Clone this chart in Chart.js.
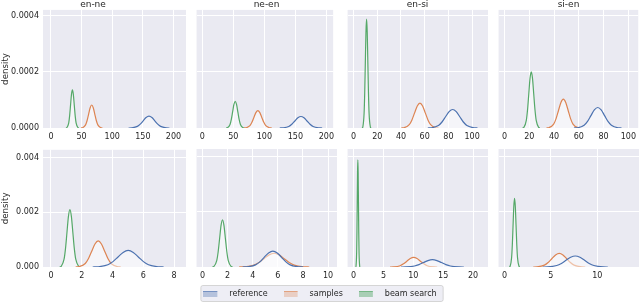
<!DOCTYPE html>
<html>
<head>
<meta charset="utf-8">
<script src="https://cdn.jsdelivr.net/npm/chart.js@4.4.0/dist/chart.umd.min.js"></script>
<style>
  body { margin: 0; background: #fff; }
  #wrap { position: relative; width: 640px; height: 303px; overflow: hidden; }
  #wrap canvas { position: absolute; }
</style>
</head>
<body>
<div id="wrap"></div>
<script>
// language pairs (columns) and series names
const pairs = ['en-ne', 'ne-en', 'en-si', 'si-en'];
const seriesNames = ['reference', 'samples', 'beam search'];

// tick labels
const topTicksY = [0, 0.0002, 0.0004];
const bottomTicksY = [0, 0.002, 0.004];
const topTicksX = [[0, 50, 100, 150, 200], [0, 50, 100, 150, 200], [0, 20, 40, 60, 80, 100], [0, 20, 40, 60, 80, 100]];
const bottomTicksX = [[0, 2, 4, 6, 8], [0, 2, 4, 6, 8, 10], [0, 5, 10, 15, 20], [0, 5, 10]];
const topRangeX = [[-13, 220.4], [-9.4, 211], [-5, 113.4], [-4.8, 108]];
const bottomRangeX = [[-0.52, 8.78], [-0.48, 10.71], [-1, 22.5], [-0.65, 14.5]];
const topMaxY = 0.000421;
const bottomMaxY = 0.00429;

// density curves, [x, density]
// top row
const topEnNeRef = [[126.75, 0], [131.5, 5e-7], [141, 5.7e-6], [145.75, 1.37e-5], [150.5, 2.55e-5], [155.25, 3.71e-5], [160, 4.2e-5], [164.75, 3.71e-5], [169.5, 2.55e-5], [174.25, 1.37e-5], [179, 5.7e-6], [188.5, 5e-7], [193.25, 0]];
const topEnNeSamp = [[49, 0], [51.5, 9e-7], [56.5, 1.11e-5], [59, 2.67e-5], [61.5, 4.98e-5], [64, 7.24e-5], [66.5, 8.2e-5], [69, 7.24e-5], [71.5, 4.98e-5], [74, 2.67e-5], [76.5, 1.11e-5], [81.5, 9e-7], [84, 0]];
const topEnNeBeam = [[24.5, 0], [26, 1.5e-6], [29, 1.84e-5], [30.5, 4.42e-5], [32, 8.25e-5], [33.5, 1.2e-4], [35, 1.36e-4], [36.5, 1.2e-4], [38, 8.25e-5], [39.5, 4.42e-5], [41, 1.84e-5], [44, 1.5e-6], [45.5, 0]];

const topNeEnRef = [[124.7, 0], [129.6, 5e-7], [139.4, 5.5e-6], [144.3, 1.33e-5], [149.2, 2.49e-5], [154.1, 3.62e-5], [159, 4.1e-5], [163.9, 3.62e-5], [168.8, 2.49e-5], [173.7, 1.33e-5], [178.6, 5.5e-6], [188.4, 5e-7], [193.3, 0]];
const topNeEnSamp = [[67.1, 0], [70.3, 7e-7], [76.7, 8.4e-6], [79.9, 2.02e-5], [83.1, 3.76e-5], [86.3, 5.47e-5], [89.5, 6.2e-5], [92.7, 5.47e-5], [95.9, 3.76e-5], [99.1, 2.02e-5], [102.3, 8.4e-6], [108.7, 7e-7], [111.9, 0]];
const topNeEnBeam = [[38.3, 0], [40.4, 1e-6], [44.6, 1.28e-5], [46.7, 3.09e-5], [48.8, 5.76e-5], [50.9, 8.39e-5], [53, 9.5e-5], [55.1, 8.39e-5], [57.2, 5.76e-5], [59.3, 3.09e-5], [61.4, 1.28e-5], [65.6, 1e-6], [67.7, 0]];

const topEnSiRef = [[62.6, 0], [65.6, 7e-7], [71.6, 8.9e-6], [74.6, 2.14e-5], [77.6, 4.0e-5], [80.6, 5.83e-5], [83.6, 6.6e-5], [86.6, 5.83e-5], [89.6, 4.0e-5], [92.6, 2.14e-5], [95.6, 8.9e-6], [101.6, 7e-7], [104.6, 0]];
const topEnSiSamp = [[40.25, 0], [42.5, 1e-6], [47, 1.2e-5], [49.25, 2.89e-5], [51.5, 5.4e-5], [53.75, 7.86e-5], [56, 8.9e-5], [58.25, 7.86e-5], [60.5, 5.4e-5], [62.75, 2.89e-5], [65, 1.2e-5], [69.5, 1e-6], [71.75, 0]];
const topEnSiBeam = [[7.3, 0], [7.85, 4.3e-6], [8.9, 5.25e-5], [9.43, 1.26e-4], [9.95, 2.35e-4], [10.48, 3.43e-4], [11, 3.88e-4], [11.53, 3.43e-4], [12.05, 2.35e-4], [12.58, 1.26e-4], [13.1, 5.25e-5], [14.15, 4.3e-6], [14.7, 0]];

const topSiEnRef = [[56.05, 0], [58.8, 8e-7], [64.3, 9.9e-6], [67.05, 2.37e-5], [69.8, 4.43e-5], [72.55, 6.45e-5], [75.3, 7.3e-5], [78.05, 6.45e-5], [80.8, 4.43e-5], [83.55, 2.37e-5], [86.3, 9.9e-6], [91.8, 8e-7], [94.55, 0]];
const topSiEnSamp = [[33.85, 0], [35.8, 1.1e-6], [39.7, 1.39e-5], [41.65, 3.35e-5], [43.6, 6.25e-5], [45.55, 9.09e-5], [47.5, 1.03e-4], [49.45, 9.09e-5], [51.4, 6.25e-5], [53.35, 3.35e-5], [55.3, 1.39e-5], [59.2, 1.1e-6], [61.15, 0]];
const topSiEnBeam = [[14.6, 0], [15.6, 2.2e-6], [17.6, 2.71e-5], [18.6, 6.5e-5], [19.6, 1.21e-4], [20.6, 1.77e-4], [21.6, 2.0e-4], [22.6, 1.77e-4], [23.6, 1.21e-4], [24.6, 6.5e-5], [25.6, 2.71e-5], [27.6, 2.2e-6], [28.6, 0]];

// bottom row
const botEnNeRef = [[2.71, 0], [3.04, 7e-6], [3.7, 8.2e-5], [4.03, 1.96e-4], [4.36, 3.67e-4], [4.69, 5.34e-4], [5.02, 6.05e-4], [5.35, 5.34e-4], [5.68, 3.67e-4], [6.01, 1.96e-4], [6.34, 8.2e-5], [7.0, 7e-6], [7.33, 0]];
const botEnNeSamp = [[1.6, 0], [1.81, 1.1e-5], [2.23, 1.29e-4], [2.44, 3.1e-4], [2.65, 5.79e-4], [2.86, 8.43e-4], [3.07, 9.55e-4], [3.28, 8.43e-4], [3.49, 5.79e-4], [3.7, 3.1e-4], [3.91, 1.29e-4], [4.33, 1.1e-5], [4.54, 0]];
const botEnNeBeam = [[0.565, 0], [0.66, 2.3e-5], [0.85, 2.84e-4], [0.945, 6.82e-4], [1.04, 1.274e-3], [1.135, 1.854e-3], [1.23, 2.1e-3], [1.325, 1.854e-3], [1.42, 1.274e-3], [1.515, 6.82e-4], [1.61, 2.84e-4], [1.8, 2.3e-5], [1.895, 0]];

const botNeEnRef = [[3.19, 0], [3.53, 6e-6], [4.22, 7.8e-5], [4.57, 1.88e-4], [4.91, 3.52e-4], [5.26, 5.12e-4], [5.6, 5.8e-4], [5.95, 5.12e-4], [6.29, 3.52e-4], [6.64, 1.88e-4], [6.98, 7.8e-5], [7.67, 6e-6], [8.02, 0]];
const botNeEnSamp = [[2.9, 0], [3.3, 6e-6], [4.1, 6.8e-5], [4.5, 1.62e-4], [4.9, 3.03e-4], [5.3, 4.41e-4], [5.7, 5.0e-4], [6.1, 4.41e-4], [6.5, 3.03e-4], [6.9, 1.62e-4], [7.3, 6.8e-5], [8.1, 6e-6], [8.5, 0]];
const botNeEnBeam = [[0.785, 0], [0.9, 1.9e-5], [1.13, 2.31e-4], [1.245, 5.55e-4], [1.36, 1.037e-3], [1.475, 1.51e-3], [1.59, 1.71e-3], [1.705, 1.51e-3], [1.82, 1.037e-3], [1.935, 5.55e-4], [2.05, 2.31e-4], [2.28, 1.9e-5], [2.395, 0]];

const botEnSiRef = [[7.95, 0], [8.7, 3e-6], [10.2, 3.6e-5], [10.95, 8.6e-5], [11.7, 1.61e-4], [12.45, 2.34e-4], [13.2, 2.65e-4], [13.95, 2.34e-4], [14.7, 1.61e-4], [15.45, 8.6e-5], [16.2, 3.6e-5], [17.7, 3e-6], [18.45, 0]];
const botEnSiSamp = [[6.1, 0], [6.66, 4e-6], [7.79, 4.7e-5], [8.36, 1.14e-4], [8.92, 2.12e-4], [9.49, 3.09e-4], [10.05, 3.5e-4], [10.62, 3.09e-4], [11.18, 2.12e-4], [11.75, 1.14e-4], [12.31, 4.7e-5], [13.44, 4e-6], [14.0, 0]];
const botEnSiBeam = [[0.37, 0], [0.42, 4.3e-5], [0.52, 5.28e-4], [0.57, 1.266e-3], [0.62, 2.365e-3], [0.67, 3.444e-3], [0.72, 3.9e-3], [0.77, 3.444e-3], [0.82, 2.365e-3], [0.87, 1.266e-3], [0.92, 5.28e-4], [1.02, 4.3e-5], [1.07, 0]];

const botSiEnRef = [[4.13, 0], [4.63, 4e-6], [5.63, 5.4e-5], [6.13, 1.3e-4], [6.63, 2.43e-4], [7.13, 3.53e-4], [7.63, 4.0e-4], [8.13, 3.53e-4], [8.63, 2.43e-4], [9.13, 1.3e-4], [9.63, 5.4e-5], [10.63, 4e-6], [11.13, 0]];
const botSiEnSamp = [[3.1, 0], [3.5, 5e-6], [4.3, 6.7e-5], [4.7, 1.61e-4], [5.1, 3.0e-4], [5.5, 4.37e-4], [5.9, 4.95e-4], [6.3, 4.37e-4], [6.7, 3.0e-4], [7.1, 1.61e-4], [7.5, 6.7e-5], [8.3, 5e-6], [8.7, 0]];
const botSiEnBeam = [[0.52, 0], [0.6, 2.8e-5], [0.76, 3.38e-4], [0.84, 8.12e-4], [0.92, 1.516e-3], [1.0, 2.206e-3], [1.08, 2.5e-3], [1.16, 2.206e-3], [1.24, 1.516e-3], [1.32, 8.12e-4], [1.4, 3.38e-4], [1.56, 2.8e-5], [1.64, 0]];

const topCurves = [
  [topEnNeRef, topEnNeSamp, topEnNeBeam],
  [topNeEnRef, topNeEnSamp, topNeEnBeam],
  [topEnSiRef, topEnSiSamp, topEnSiBeam],
  [topSiEnRef, topSiEnSamp, topSiEnBeam],
];
const bottomCurves = [
  [botEnNeRef, botEnNeSamp, botEnNeBeam],
  [botNeEnRef, botNeEnSamp, botNeEnBeam],
  [botEnSiRef, botEnSiSamp, botEnSiBeam],
  [botSiEnRef, botSiEnSamp, botSiEnBeam],
];

Chart.defaults.font.family = "'DejaVu Sans', sans-serif";
Chart.defaults.font.size = 8;
Chart.defaults.color = '#262626';
Chart.defaults.animation = false;

const colors = ['#4c72b0', '#dd8452', '#55a868'];
const plotLeft = [43, 196, 347, 498];
const plotRight = [186, 337, 488, 639];
const wrap = document.getElementById('wrap');

const panelBg = {
  id: 'panelBg',
  beforeDraw(chart) {
    const { ctx, chartArea: a } = chart;
    ctx.save();
    ctx.fillStyle = '#eaeaf2';
    ctx.fillRect(a.left, a.top, a.width, a.height);
    ctx.restore();
  },
};

function addCanvas(left, top, width, height) {
  const canvas = document.createElement('canvas');
  canvas.width = width;
  canvas.height = height;
  canvas.style.left = left + 'px';
  canvas.style.top = top + 'px';
  canvas.style.width = width + 'px';
  canvas.style.height = height + 'px';
  wrap.appendChild(canvas);
  return canvas;
}

function addPanel(row, col) {
  const isTop = row === 0;
  const left = col === 0 ? 0 : plotLeft[col];
  const top = isTop ? 0 : 141;
  const canvas = addCanvas(left, top, plotRight[col] - left + 1, isTop ? 145 : 142);
  const curves = isTop ? topCurves[col] : bottomCurves[col];
  const range = isTop ? topRangeX[col] : bottomRangeX[col];
  const xTicks = isTop ? topTicksX[col] : bottomTicksX[col];
  const yTicks = isTop ? topTicksY : bottomTicksY;

  new Chart(canvas, {
    type: 'line',
    data: {
      datasets: curves.map((pts, i) => ({
        label: seriesNames[i],
        data: pts.map(([x, y]) => ({ x, y })),
        borderColor: colors[i],
        borderWidth: 1.2,
        backgroundColor: 'rgba(255,255,255,0.5)',
        fill: 'origin',
        pointRadius: 0,
        cubicInterpolationMode: 'monotone',
      })),
    },
    plugins: [panelBg],
    options: {
      responsive: false,
      layout: { padding: { top: isTop ? 0 : 8, right: 1, left: 0, bottom: 0 } },
      scales: {
        x: {
          type: 'linear',
          min: range[0],
          max: range[1],
          afterBuildTicks: (s) => { s.ticks = xTicks.map((v) => ({ value: v })); },
          afterFit: (s) => { s.height = isTop ? 17 : 16; },
          ticks: { padding: 4, maxRotation: 0, autoSkip: false, callback: (v) => String(v) },
          grid: { color: '#ffffff', lineWidth: 1, drawTicks: false },
          border: { display: false },
        },
        y: {
          min: 0,
          max: isTop ? topMaxY : bottomMaxY,
          afterBuildTicks: (s) => { s.ticks = yTicks.map((v) => ({ value: v })); },
          afterFit: (s) => { s.width = col === 0 ? 43 : 0; },
          ticks: { display: col === 0, padding: 4, callback: (v) => v.toFixed(isTop ? 4 : 3) },
          grid: { color: '#ffffff', lineWidth: 1, drawTicks: false },
          border: { display: false },
          title: { display: col === 0, text: 'density', font: { size: 8.7 }, padding: { top: 0.5, bottom: 0 } },
        },
      },
      plugins: {
        legend: { display: false },
        tooltip: { enabled: false },
        title: {
          display: isTop,
          text: pairs[col],
          font: { size: 9, weight: 'normal', lineHeight: 1.1 },
          color: '#262626',
          padding: { top: 0, bottom: 0 },
        },
      },
    },
  });
}

for (let r = 0; r < 2; r++) {
  for (let c = 0; c < 4; c++) addPanel(r, c);
}

// legend patches
function makePatch(i) {
  const c = document.createElement('canvas');
  c.width = 22;
  c.height = 6;
  const ctx = c.getContext('2d');
  const fills = ['rgba(76,114,176,0.35)', 'rgba(221,132,82,0.3)', 'rgba(85,168,104,0.45)'];
  ctx.fillStyle = fills[i];
  ctx.fillRect(0, 0, 14, 6);
  ctx.strokeStyle = colors[i];
  ctx.globalAlpha = 0.6;
  ctx.lineWidth = 1;
  ctx.beginPath();
  ctx.moveTo(0, 0.5);
  ctx.lineTo(14, 0.5);
  ctx.stroke();
  return c;
}
const patches = seriesNames.map((_, i) => makePatch(i));

const legendFrame = {
  id: 'legendFrame',
  beforeDraw(chart) {
    const boxes = chart.legend.legendHitBoxes;
    if (!boxes || !boxes.length) return;
    const first = boxes[0];
    const last = boxes[boxes.length - 1];
    const x0 = first.left - 3;
    const x1 = last.left + last.width + 6;
    const y0 = first.top - 5;
    const y1 = first.top + first.height + 3;
    const { ctx } = chart;
    ctx.save();
    ctx.fillStyle = 'rgba(234,234,242,0.8)';
    ctx.strokeStyle = 'rgba(204,204,204,0.8)';
    ctx.lineWidth = 1;
    ctx.beginPath();
    ctx.roundRect(x0 + 0.5, y0 + 0.5, x1 - x0, y1 - y0, 2);
    ctx.fill();
    ctx.stroke();
    ctx.restore();
  },
};

const legendCanvas = addCanvas(0, 274, 640, 29);
new Chart(legendCanvas, {
  type: 'line',
  data: { datasets: seriesNames.map((name, i) => ({ label: name, data: [], borderColor: colors[i] })) },
  plugins: [legendFrame],
  options: {
    responsive: false,
    scales: { x: { display: false }, y: { display: false } },
    plugins: {
      tooltip: { enabled: false },
      legend: {
        display: true,
        position: 'top',
        maxHeight: 40,
        labels: {
          usePointStyle: true,
          pointStyleWidth: 22,
          boxHeight: 6,
          padding: 16,
          font: { size: 8 },
          color: '#262626',
          generateLabels: () => seriesNames.map((name, i) => ({
            text: name,
            pointStyle: patches[i],
            fillStyle: 'transparent',
            strokeStyle: 'transparent',
            lineWidth: 0,
            hidden: false,
            datasetIndex: i,
            fontColor: '#262626',
          })),
        },
      },
    },
  },
});
</script>
</body>
</html>
